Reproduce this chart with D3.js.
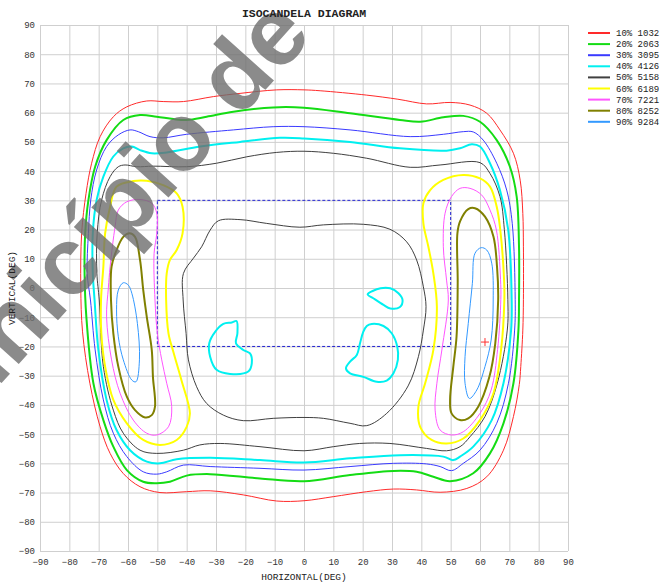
<!DOCTYPE html>
<html>
<head>
<meta charset="utf-8">
<script src="https://cdn.jsdelivr.net/npm/d3@7"></script>
<style>
  body { margin: 0; background: #fff; }
  svg { display: block; }
</style>
</head>
<body>
<div class="canvas"></div>
<script>
// ticks and legend
const xTicks = d3.range(-90, 91, 10)
const yTicks = d3.range(-90, 91, 10)
const levelPct = ['10%', '20%', '30%', '40%', '50%', '60%', '70%', '80%', '90%']
const levelCd = [1032, 2063, 3095, 4126, 5158, 6189, 7221, 8252, 9284]

// contour lines, [horizontal deg, vertical deg]
const c10 = [[-75.5,-15],[-76.1,0.4],[-75.8,18.7],[-74.3,32.4],[-72.4,42.7],[-69.5,51.8],[-65.0,58.6],[-60.4,62.0],[-53.6,64.0],[-48,63.8],[-41.1,63.8],[-30.9,65.5],[-21.8,66.6],[-9.3,67.8],[0,67.8],[5.5,67.5],[21.4,66.0],[32,64.6],[41.8,63.0],[49.8,63.5],[56.6,62.6],[62.3,59.8],[66.8,54.1],[71.4,46.1],[73.7,36.9],[74.6,25.5],[74.8,14.1],[74.8,-4],[74.6,-14.4],[73.9,-26.9],[73.4,-33],[71.4,-44],[68,-55.5],[62.3,-64.6],[55.5,-68.6],[46.4,-69.9],[38.4,-69.1],[30.5,-68.8],[21.4,-69.7],[10,-71.4],[0,-72.8],[-9.3,-72.9],[-20.7,-70.8],[-32.0,-69.4],[-40,-69.7],[-49.1,-70],[-55.9,-68],[-61.6,-63.5],[-66.1,-56.6],[-69.5,-47.5],[-73,-32.6]]
const c20 = [[-74.2,-9.9],[-74.8,5],[-74.6,18.7],[-73.5,30.1],[-71.2,41.5],[-67.3,50.6],[-61.6,57.5],[-55.9,59.2],[-50.2,58.6],[-44.5,57.8],[-40,57.5],[-33.2,58.6],[-24.1,60.3],[-10.5,61.8],[0,61.7],[15.7,59.8],[32.7,57.5],[39.6,56.9],[47.5,58.4],[54.3,58.9],[60,56.9],[65.7,50.6],[70.2,41.5],[72.5,31.3],[73.3,14.1],[73.3,-4],[73.1,-14.4],[71.4,-32.6],[68,-46.3],[63.4,-56.6],[57.7,-63.4],[49.8,-66.1],[44.1,-64.6],[38.4,-62.9],[30.5,-62.6],[15.7,-64],[0,-66.1],[-15,-65.2],[-32,-63.7],[-40,-64.2],[-45.7,-66.3],[-50.2,-66.8],[-54.8,-66.3],[-60.4,-62.3],[-65,-54.3],[-68.4,-45.2],[-71.8,-32.6]]
const c30 = [[-72.8,-4.1],[-73.9,5],[-73.5,18.7],[-72.7,30.1],[-70.7,40.4],[-67.3,48.4],[-63.3,52.4],[-59.3,54.1],[-56.5,53.5],[-52.5,51.8],[-48,51.4],[-40,52.6],[-24.1,54.1],[-10.5,55.2],[0,55.2],[15.7,54.1],[36.2,51.8],[47.5,52.6],[54.3,53.5],[57.7,53.4],[61.1,50.6],[65.7,42.7],[69.1,33.5],[71,22],[72,-4],[71.8,-14.4],[69.7,-32.6],[65.7,-46.3],[60,-55.5],[54.3,-60],[50.3,-62.5],[46.4,-61.1],[41.8,-60.2],[30.5,-60],[15.7,-61.1],[0,-62.3],[-15,-61.7],[-32,-61.1],[-41.1,-60.6],[-46.8,-62.9],[-50.2,-63.7],[-54.8,-62.9],[-60.4,-57.7],[-65,-49.7],[-68.4,-38.3],[-71.2,-21.2]]
const c40 = [[-71.4,-4.1],[-72,5],[-72,18.7],[-70.7,30.1],[-68.4,38.1],[-65,45],[-61.6,47.8],[-58.7,48.4],[-55.9,47.2],[-51.9,46.1],[-46.8,46.4],[-35.4,48.4],[-21.8,50],[-8.2,51.4],[0,51.2],[15.7,50],[32.7,47.8],[48.6,47],[53.2,47.8],[57.2,49.2],[60,48.4],[63.4,42.7],[66.8,33.5],[69.6,20],[70.8,-4],[70.6,-14.4],[68,-32.6],[64,-45.2],[57.7,-54.3],[53.2,-57.7],[50.9,-58.9],[47.5,-57.7],[32.7,-57.2],[15.7,-58.3],[0,-59.7],[-15,-58.9],[-32,-58.1],[-43.4,-58.6],[-49.1,-60],[-53.6,-59.4],[-59.3,-55.5],[-63.9,-48.6],[-67.3,-38.3],[-70.1,-21.2]]
const c50 = [[-69.8,-4.1],[-70.6,5],[-70.5,18.7],[-69,30.1],[-66.1,38.1],[-63.3,41.5],[-61,42.1],[-57,41.5],[-51.4,41.7],[-40,41.5],[-29.8,42.7],[-19.5,44.9],[-9.3,46.4],[0,46.8],[10,46.1],[21.4,44.4],[36.2,41.3],[46.4,42.1],[60,42.9],[63.4,39.2],[66.8,31.3],[68.3,20],[69.5,-4],[69.3,-14.4],[65.9,-32.6],[61.7,-44],[56.6,-50.9],[53.2,-54.3],[48.6,-55.7],[41.8,-54.9],[29.3,-53.2],[19,-53.2],[10,-54.3],[0,-55.7],[-15,-54.3],[-28.6,-53.2],[-35.5,-53.7],[-41.1,-55.5],[-50.2,-56.6],[-55.9,-55.5],[-61.6,-49.7],[-65,-41.8],[-68.4,-26.9]]
const c50in = [[-29.2,23],[-21.8,23.4],[-12.7,22.1],[-1.4,20.8],[6.6,21.6],[20.2,21.8],[29.3,20.1],[35,15.8],[38.4,9.6],[40.7,0.4],[41.6,-6.4],[40.7,-14.4],[39,-23.5],[35.5,-33.5],[28.2,-42.9],[21.4,-47.1],[15.7,-46.3],[6.6,-44.6],[0,-44.3],[-10.5,-44.6],[-20.7,-45.4],[-27.5,-43.5],[-33.2,-39.5],[-36.6,-33.8],[-39.4,-24.6],[-40.2,-15.5],[-41.2,-4.1],[-41.1,5],[-37.7,10.2],[-34.9,14.1],[-32,19.8]]
const c60L = [[-63.9,34.7],[-58.2,36.6],[-53.6,36.7],[-48,35.2],[-43.4,32.4],[-41.4,27.8],[-41.4,18.7],[-43.4,13],[-45.7,9.6],[-46.8,5],[-47,-4.1],[-46.2,-15.5],[-44.5,-22],[-41.8,-31.5],[-38.9,-42.9],[-40,-47.5],[-43.4,-52],[-49.1,-53.7],[-54.8,-52],[-60.4,-46.3],[-65,-38.3],[-67.8,-26.9],[-69.1,-15.5],[-69.2,-4.1],[-68.4,7.3],[-67.8,18.7],[-66.1,27.8]]
const c60R = [[43,33.5],[47.5,37],[54.3,38.7],[60,37.5],[63.4,34.7],[65.7,27.8],[66.9,20],[68.2,3],[68.3,-4],[67.2,-21],[64.6,-36],[60,-45.2],[54.3,-51.5],[48.6,-53.2],[43.5,-52],[39.6,-47.5],[39,-40.6],[41.3,-32.6],[44.1,-21.2],[45.3,-6.4],[44.1,5],[42.4,14.1],[40.7,22.1],[40.7,29]]
const c70L = [[-60.4,29.5],[-55.9,30.3],[-51.9,29],[-50.2,25.6],[-50.2,18.7],[-51.1,11.9],[-50.8,-4.1],[-50,-15.5],[-48.5,-24.6],[-46.8,-32.6],[-45.1,-40.6],[-46.2,-47.5],[-50.2,-50.3],[-53.6,-49.7],[-58.2,-45.2],[-62.7,-36],[-65.6,-24.6],[-67.3,-9.9],[-66.7,0],[-66.1,7.3],[-64.4,21],[-63.3,26.7]]
const c70R = [[50.3,31.3],[53.2,34.1],[56.6,34.1],[60.6,31.8],[63.4,26.7],[65.6,19.8],[67,3],[67.1,-4],[66,-21],[63.8,-34.9],[60,-42.9],[54.3,-49.2],[50.3,-50.3],[46.4,-48.6],[44.7,-41.8],[45.3,-32.6],[47,-21.2],[49.2,-4.1],[48.6,2.7],[47.5,14.1],[48.1,25.6]]
const c80L = [[-61.6,17.5],[-59.5,18.7],[-57.6,17.5],[-55.9,9.6],[-54.8,-0.7],[-53.6,-9.9],[-51.9,-21.2],[-51.5,-30.4],[-50.8,-40.6],[-51.9,-43.5],[-54.2,-44.3],[-57.6,-41.8],[-60.4,-37.2],[-63.3,-26.9],[-65,-15.5],[-65.8,-4.1],[-65.6,7.3],[-63.9,13]]
const c80R = [[53.2,22.8],[56,27],[58.3,27.3],[61.7,24.4],[64.6,17.5],[65.8,7.3],[66.2,-4],[65.2,-19],[63.2,-30.4],[59.4,-40.6],[56,-44.6],[53.2,-45.2],[50.3,-42.9],[49.8,-38.3],[50.9,-26.9],[52,-16.7],[52.4,1.6],[52.3,18.7]]
const c90L = [[-59.9,1.0],[-58.7,-1.8],[-56.8,-12.1],[-56.1,-24.6],[-57.3,-32.1],[-58.7,-31.5],[-61.6,-24.6],[-63.3,-16.7],[-63.9,-7.5],[-63.3,-0.7],[-61.6,1.8]]
const c90R = [[60.4,13.8],[62.3,13],[64,8.5],[64.5,-4.1],[63.8,-17.8],[61.7,-26.9],[58.9,-34.9],[56.4,-37.8],[54.9,-32.6],[54.9,-23.5],[56,-12.1],[57.4,1.6],[58.3,11.9]]
const c40a = [[-24.6,-11.8],[-23,-11.3],[-22.7,-15.5],[-23.2,-18.9],[-20.7,-21.2],[-18.4,-22.4],[-17.8,-25.8],[-19,-28.6],[-25.2,-29.4],[-29.8,-28],[-32,-23.5],[-32.3,-18.9],[-30.3,-15],[-27.5,-12.3]]
const c40b = [[21.7,-2.2],[26.1,-0.1],[29.4,-0.1],[32.2,-1.8],[33.6,-4.1],[32.6,-6.6],[29.4,-7],[27.1,-5.8],[23.6,-3.5]]
const c40c = [[23.1,-12.3],[27.1,-13],[29.9,-15.5],[31.8,-20.1],[32,-24.6],[30.5,-29.2],[28.2,-31.7],[24.8,-32.1],[20.2,-30.4],[15.7,-29.2],[14.3,-27.5],[15.7,-25.2],[18,-22.9],[19.1,-18.9],[20.2,-15],[21.4,-13]]
const rectH = [-50, 50]
const rectV = [-20, 30]
const maxPoint = [61.7, -18.5]

const W = 660, H = 582
const x = d3.scaleLinear().domain([-90, 90]).range([40, 568])
const y = d3.scaleLinear().domain([-90, 90]).range([551, 25])

const colors = ['#ff2a2a', '#14dc14', '#3a3aff', '#00f0f0', '#404040', '#ffff00', '#ff55ff', '#808000', '#3399ff']
const widths = [1, 2, 1, 2, 1, 2, 1, 2, 1]

const svg = d3.select('.canvas').append('svg')
    .attr('width', W)
    .attr('height', H)
    .style('font-family', '"Liberation Mono", monospace')

// grid
const gx = svg.append('g')
    .attr('transform', `translate(0, ${y(-90)})`)
    .call(d3.axisBottom(x).tickValues(xTicks).tickSize(-(y(-90) - y(90))).tickPadding(8))
const gy = svg.append('g')
    .attr('transform', `translate(${x(-90)}, 0)`)
    .call(d3.axisLeft(y).tickValues(yTicks).tickSize(-(x(90) - x(-90))).tickPadding(5))
svg.selectAll('.domain').remove()
svg.selectAll('.tick line').attr('stroke', '#cfcfcf')
svg.selectAll('.tick text')
    .attr('fill', '#333')
    .style('font-size', '9px')
    .style('font-family', '"Liberation Mono", monospace')

// dashed window
svg.append('rect')
    .attr('x', x(rectH[0]))
    .attr('y', y(rectV[1]))
    .attr('width', x(rectH[1]) - x(rectH[0]))
    .attr('height', y(rectV[0]) - y(rectV[1]))
    .attr('fill', 'none')
    .attr('stroke', '#2020d0')
    .attr('stroke-width', 1)
    .attr('stroke-dasharray', '3,2')

const line = d3.line()
    .x(d => x(d[0]))
    .y(d => y(d[1]))
    .curve(d3.curveCatmullRomClosed.alpha(0.5))

const contours = [
    [c10, 0], [c20, 1], [c30, 2], [c40, 3], [c40a, 3], [c40b, 3], [c40c, 3],
    [c50, 4], [c50in, 4], [c60L, 5], [c60R, 5], [c70L, 6], [c70R, 6],
    [c80L, 7], [c80R, 7], [c90L, 8], [c90R, 8]
]

svg.append('g').selectAll('path')
    .data(contours)
    .enter()
        .append('path')
        .attr('d', d => line(d[0]))
        .attr('fill', 'none')
        .attr('stroke', d => colors[d[1]])
        .attr('stroke-width', d => widths[d[1]])

// max marker
svg.append('path')
    .attr('d', `M${x(maxPoint[0]) - 4},${y(maxPoint[1])}h8M${x(maxPoint[0])},${y(maxPoint[1]) - 4}v8`)
    .attr('stroke', '#ff3030')
    .attr('stroke-width', 1)

// legend
const legend = svg.append('g').attr('transform', 'translate(588, 33)')
const rows = legend.selectAll('g')
    .data(levelPct)
    .enter()
        .append('g')
        .attr('transform', (d, i) => `translate(0, ${i * 11.1})`)
rows.append('line')
    .attr('x1', 0).attr('x2', 22)
    .attr('stroke', (d, i) => colors[i])
    .attr('stroke-width', 2)
rows.append('text')
    .attr('x', 28).attr('y', 3)
    .style('font-size', '9px')
    .attr('fill', '#222')
    .text((d, i) => `${d} ${levelCd[i]}`)

// watermark over the plot
svg.append('text')
    .attr('transform', 'translate(314, 36) rotate(-48)')
    .attr('text-anchor', 'end')
    .style('font-family', '"Liberation Sans", Arial, sans-serif')
    .style('font-weight', 'bold')
    .style('font-size', '96px')
    .attr('fill', '#6e6e6e')
    .attr('fill-opacity', 0.8)
    .text('Município de')

// title and axis names
svg.append('text')
    .attr('x', 304).attr('y', 17)
    .attr('text-anchor', 'middle')
    .style('font-size', '11.5px')
    .style('font-weight', 'bold')
    .attr('fill', '#222')
    .text('ISOCANDELA DIAGRAM')
svg.append('text')
    .attr('x', 304).attr('y', 580)
    .attr('text-anchor', 'middle')
    .style('font-size', '9.5px')
    .attr('fill', '#222')
    .text('HORIZONTAL(DEG)')
svg.append('text')
    .attr('transform', `translate(15, ${y(0)}) rotate(-90)`)
    .attr('text-anchor', 'middle')
    .style('font-size', '9.5px')
    .attr('fill', '#222')
    .text('VERTICAL(DEG)')
</script>
</body>
</html>
